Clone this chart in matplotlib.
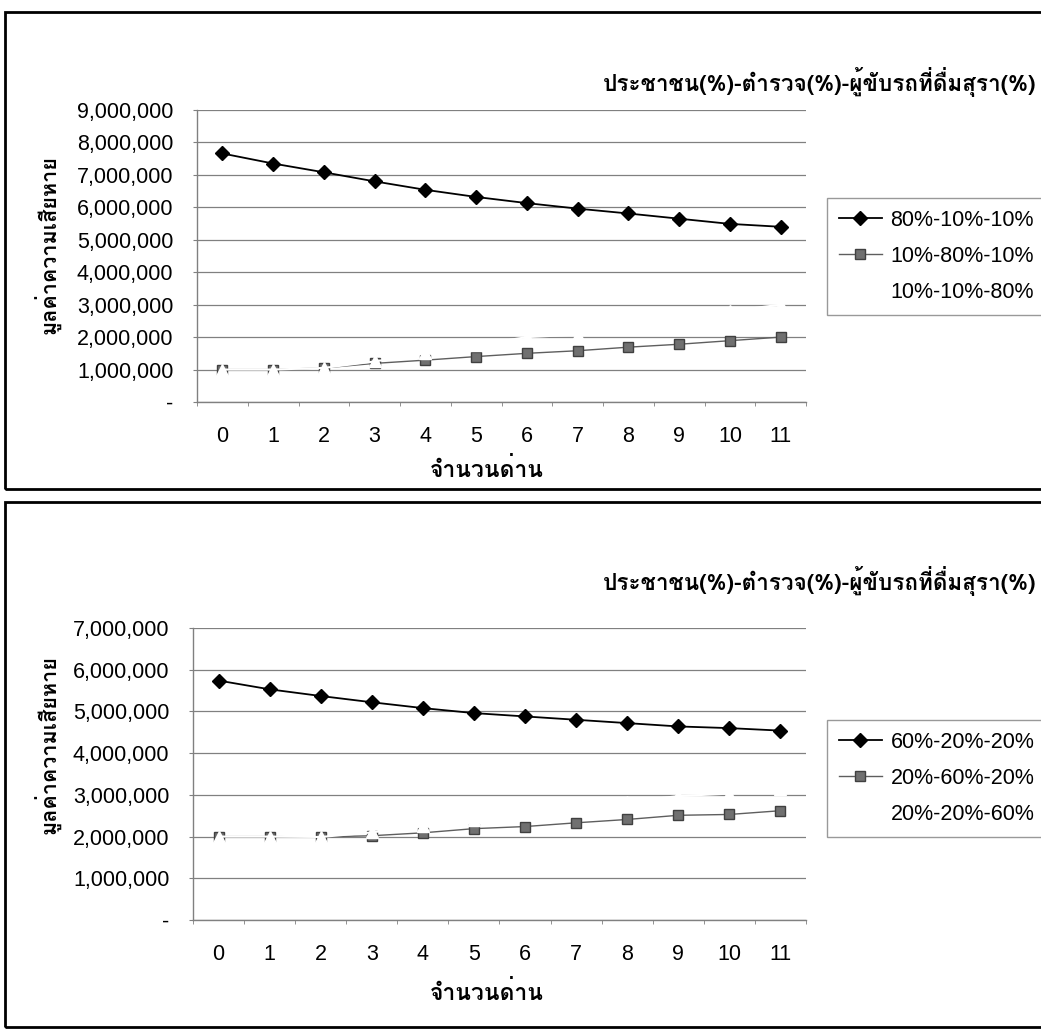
import matplotlib
matplotlib.use("Agg")
import matplotlib.pyplot as plt
from matplotlib import font_manager
from matplotlib.ft2font import FT2Font
from matplotlib.patches import Rectangle
from matplotlib.ticker import FuncFormatter, MultipleLocator

# Data
checkpoints = list(range(12))
tick_labels = [str(i) for i in checkpoints]

title = "ประชาชน(%)-ตำรวจ(%)-ผู้ขับรถที่ดื่มสุรา(%)"
ylabel = "มูลค่าความเสียหาย"
xlabel = "จำนวนด่าน"

top_names = ["80%-10%-10%", "10%-80%-10%", "10%-10%-80%"]
top_people = [7660000, 7350000, 7080000, 6800000, 6540000, 6320000,
              6130000, 5960000, 5810000, 5650000, 5490000, 5400000]
top_police = [1000000, 1000000, 1050000, 1190000, 1290000, 1400000,
              1500000, 1580000, 1690000, 1780000, 1890000, 2000000]
top_drunk = [1000000, 1000000, 1050000, 1250000, 1500000, 1750000,
             2000000, 2080000, 2300000, 2550000, 2800000, 3000000]

bottom_names = ["60%-20%-20%", "20%-60%-20%", "20%-20%-60%"]
bottom_people = [5740000, 5530000, 5370000, 5220000, 5080000, 4960000,
                 4880000, 4800000, 4720000, 4640000, 4600000, 4540000]
bottom_police = [2000000, 2000000, 1990000, 2020000, 2090000, 2190000,
                 2240000, 2330000, 2410000, 2510000, 2530000, 2620000]
bottom_drunk = [2000000, 2000000, 1990000, 2100000, 2250000, 2400000,
                2550000, 2700000, 2830000, 2970000, 3030000, 3150000]

# find an installed font with Thai glyphs
thai_font = None
for f in font_manager.fontManager.ttflist:
    try:
        if FT2Font(f.fname).get_char_index(0x0E01):
            thai_font = f.name
            break
    except Exception:
        pass

latin = ["Liberation Sans", "DejaVu Sans"]
thai = ([thai_font] if thai_font else []) + latin
plt.rcParams["font.family"] = latin

W, H = 1041, 1029
fig = plt.figure(figsize=(W / 100, H / 100), dpi=100)
fig.patch.set_facecolor("white")


def px_axes(left, top, right, bottom):
    return fig.add_axes([left / W, 1 - bottom / H, (right - left) / W, (bottom - top) / H])


def draw_chart(ax, people, police, drunk, names, ymax):
    ax.plot(checkpoints, people, color="black", lw=1.3, marker="D", markersize=7.5,
            markerfacecolor="black", markeredgecolor="black", label=names[0], zorder=3)
    ax.plot(checkpoints, police, color="#5e5e5e", lw=1.0, marker="s", markersize=7,
            markerfacecolor="#707070", markeredgecolor="#404040", label=names[1], zorder=3)
    ax.plot(checkpoints, drunk, color="white", lw=1.5, marker="^", markersize=8,
            markerfacecolor="white", markeredgecolor="white", label=names[2], zorder=3)

    ax.set_xlim(-0.5, 11.5)
    ax.set_ylim(0, ymax)
    ax.yaxis.set_major_locator(MultipleLocator(1000000))
    ax.yaxis.set_major_formatter(FuncFormatter(lambda v, p: "-" if v == 0 else f"{v:,.0f}"))
    ax.set_xticks(checkpoints)
    ax.set_xticklabels(tick_labels)
    ax.set_xticks([i - 0.5 for i in range(13)], minor=True)

    ax.grid(axis="y", color="#808080", lw=0.9)
    ax.set_axisbelow(True)
    for s in ["top", "right"]:
        ax.spines[s].set_visible(False)
    for s in ["left", "bottom"]:
        ax.spines[s].set_color("#808080")
        ax.spines[s].set_linewidth(1.0)

    ax.tick_params(axis="y", which="major", length=3, color="#808080", pad=14, labelsize=15.5)
    ax.tick_params(axis="x", which="major", length=0, pad=17, labelsize=15.5)
    ax.tick_params(axis="x", which="minor", length=3, color="#808080")


# frames around the two chart panels
fig.add_artist(Rectangle((5 / W, 1 - 489 / H), 1.1, (489 - 12) / H, transform=fig.transFigure,
                         fill=False, edgecolor="black", lw=2))
fig.add_artist(Rectangle((5 / W, 1 - 1027 / H), 1.1, (1027 - 502) / H, transform=fig.transFigure,
                         fill=False, edgecolor="black", lw=2))

ax1 = px_axes(197, 110, 806, 402)
draw_chart(ax1, top_people, top_police, top_drunk, top_names, 9000000)
ax2 = px_axes(193, 628, 806, 920)
draw_chart(ax2, bottom_people, bottom_police, bottom_drunk, bottom_names, 7000000)

for ax, title_y, label_y, legend_top, x_label_y in [(ax1, 82, 245, 198, 469), (ax2, 581, 745, 720, 992)]:
    fig.text(603 / W, 1 - title_y / H, title, family=thai, fontsize=16.2, fontweight="bold",
             ha="left", va="center")
    fig.text(48 / W, 1 - label_y / H, ylabel, family=thai, fontsize=15.5, fontweight="bold",
             rotation=90, ha="center", va="center")
    fig.text(487 / W, 1 - x_label_y / H, xlabel, family=thai, fontsize=16.5, fontweight="bold",
             ha="center", va="center")
    ax.legend(loc="upper left", bbox_to_anchor=(827 / W, 1 - legend_top / H),
              bbox_transform=fig.transFigure, fontsize=15.5, frameon=True, fancybox=False,
              edgecolor="#808080", handlelength=2.0, handletextpad=0.4,
              labelspacing=0.7, borderpad=0.55, borderaxespad=0)

plt.savefig("out.png", dpi=100, facecolor="white")
